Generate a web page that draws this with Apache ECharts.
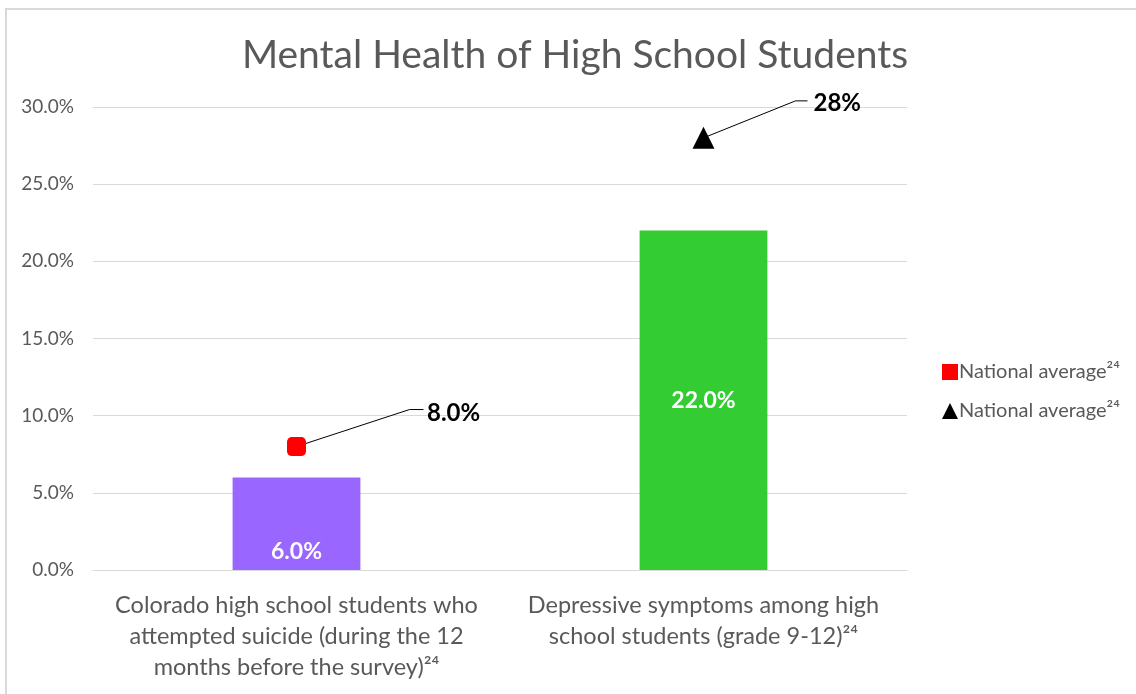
<!DOCTYPE html>
<html>
<head>
<meta charset="utf-8">
<script src="https://cdn.jsdelivr.net/npm/echarts@6/dist/echarts.min.js"></script>
<style>
  html, body { margin: 0; padding: 0; background: #fff; }
  #frame {
    position: absolute; left: 5px; top: 8px;
    width: 1200px; height: 800px;
    border: 2px solid #d9d9d9; box-sizing: border-box;
  }
  #chart { position: absolute; left: 0; top: 0; width: 1136px; height: 694px; }
</style>
</head>
<body>
<div id="frame"></div>
<div id="chart"></div>
<script>
// chart data
const categories = [
  'Colorado high school students who\nattempted suicide (during the 12\nmonths before the survey)²⁴',
  'Depressive symptoms among high\nschool students (grade 9-12)²⁴'
]
const coloradoValues = [6.0, 22.0]
const barColors = ['#9966ff', '#33cc33']
const nationalSuicide = [8.0, null]
const nationalDepression = [null, 28]
const nationalLabels = ['8.0%', '28%']
const legendText = 'National average²⁴'

const fontFamily = 'Lato, "Open Sans", sans-serif'
const grey = '#595959'

var myChart = echarts.init(document.getElementById('chart'))

const barData = coloradoValues.map((v, i) => {
  return {
    value: v,
    itemStyle: { color: barColors[i] },
    label: i === 0
      ? { position: 'insideBottom', distance: 7 }
      : { position: 'inside' }
  }
})

function markerLabel(text, dx, dy) {
  return {
    label: {
      show: true,
      position: 'right',
      distance: 5,
      color: '#000',
      fontWeight: 'bold',
      fontSize: 24,
      fontFamily: fontFamily,
      formatter: function () { return text }
    },
    labelLayout: { dx: dx, dy: dy }
  }
}

const option = {
  animation: false,
  textStyle: { fontFamily: fontFamily },
  title: {
    text: 'Mental Health of High School Students',
    left: 570,
    textAlign: 'center',
    top: 31,
    textStyle: {
      fontFamily: fontFamily,
      fontSize: 39,
      fontWeight: 'normal',
      color: grey
    }
  },
  legend: {
    orient: 'vertical',
    left: 937,
    top: 357,
    itemGap: 19,
    itemWidth: 16,
    itemHeight: 16,
    formatter: function () { return legendText },
    textStyle: { fontFamily: fontFamily, fontSize: 20, color: grey, padding: [0, 0, 0, -4] },
    data: [
      { name: 'natRed', icon: 'rect', itemStyle: { color: '#ff0000' } },
      { name: 'natBlack', icon: 'triangle', itemStyle: { color: '#000000' } }
    ]
  },
  grid: {
    left: 93,
    right: 229,
    top: 107,
    bottom: 124
  },
  xAxis: {
    type: 'category',
    data: categories,
    axisLine: { lineStyle: { color: '#d9d9d9' } },
    axisTick: { show: false },
    axisLabel: {
      interval: 0,
      color: grey,
      fontSize: 23.5,
      lineHeight: 31,
      margin: 20,
      fontFamily: fontFamily
    }
  },
  yAxis: {
    type: 'value',
    min: 0,
    max: 30,
    interval: 5,
    axisLine: { show: false },
    axisTick: { show: false },
    splitLine: { lineStyle: { color: '#d9d9d9', width: 1 } },
    axisLabel: {
      color: grey,
      fontSize: 19,
      margin: 19,
      fontFamily: fontFamily,
      formatter: function (v) { return v.toFixed(1) + '%' }
    }
  },
  series: [
    {
      name: 'Colorado',
      type: 'bar',
      barWidth: '31.4%',
      data: barData,
      label: {
        show: true,
        color: '#ffffff',
        fontWeight: 'bold',
        fontSize: 23,
        fontFamily: fontFamily,
        formatter: function (p) { return p.value.toFixed(1) + '%' }
      }
    },
    Object.assign({
      name: 'natRed',
      type: 'scatter',
      symbol: 'roundRect',
      symbolSize: 19,
      itemStyle: { color: '#ff0000', opacity: 1 },
      data: nationalSuicide
    }, markerLabel(nationalLabels[0], 116, -33)),
    Object.assign({
      name: 'natBlack',
      type: 'scatter',
      symbol: 'triangle',
      symbolSize: 22,
      itemStyle: { color: '#000000', opacity: 1 },
      data: nationalDepression
    }, markerLabel(nationalLabels[1], 94, -35))
  ]
}

myChart.setOption(option)

// leader lines from each national-average marker toward its label
const leaders = [
  { series: 1, idx: 0, value: nationalSuicide[0], bend: [113, -37], end: [127, -37] },
  { series: 2, idx: 1, value: nationalDepression[1], bend: [92, -37], end: [104, -37] }
]
const graphics = leaders.map(l => {
  const p = myChart.convertToPixel({ seriesIndex: l.series }, [l.idx, l.value])
  return {
    type: 'polyline',
    shape: { points: [p, [p[0] + l.bend[0], p[1] + l.bend[1]], [p[0] + l.end[0], p[1] + l.end[1]]] },
    style: { stroke: '#000', lineWidth: 1, fill: null },
    z: 1
  }
})
myChart.setOption({ graphic: graphics })
</script>
</body>
</html>
